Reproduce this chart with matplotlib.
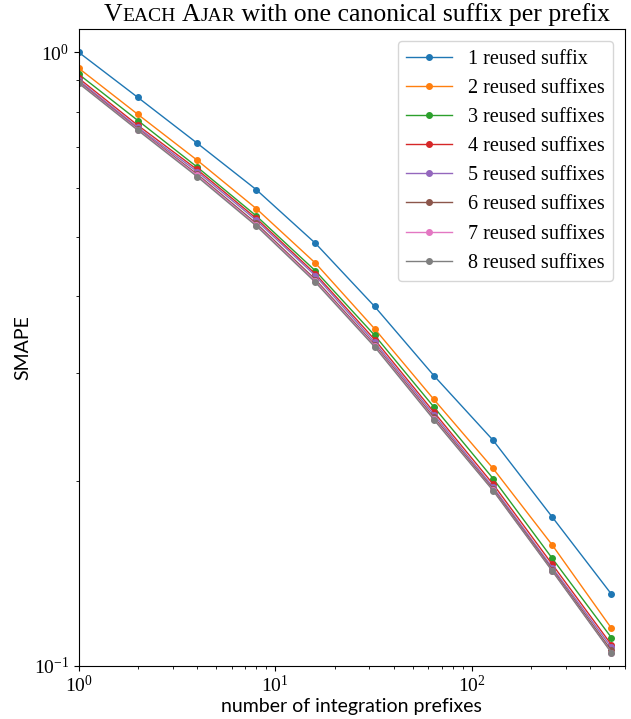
import matplotlib
matplotlib.use("Agg")
import numpy as np
from matplotlib import pyplot as plt
from matplotlib.ticker import NullFormatter

SERIF = "Liberation Serif"
SANS = "Lato"
plt.rcParams["font.family"] = [SERIF, "DejaVu Serif"]
plt.rcParams["mathtext.fontset"] = "stix"

prefixes = [1, 2, 4, 8, 16, 32, 64, 128, 256, 512]

smape_1 = [1.000, 0.844, 0.711, 0.597, 0.488, 0.385, 0.297, 0.233, 0.1746, 0.1307]
smape_2 = [0.942, 0.792, 0.667, 0.556, 0.453, 0.354, 0.2716, 0.2096, 0.1572, 0.1150]
smape_3 = [0.921, 0.774, 0.650, 0.541, 0.440, 0.3455, 0.2640, 0.2018, 0.1495, 0.1110]
smape_4 = [0.907, 0.760, 0.644, 0.536, 0.435, 0.340, 0.2590, 0.1976, 0.1462, 0.1081]
smape_5 = [0.900, 0.754, 0.639, 0.532, 0.432, 0.3365, 0.2565, 0.1954, 0.1444, 0.1070]
smape_6 = [0.895, 0.750, 0.633, 0.526, 0.426, 0.3335, 0.2540, 0.1940, 0.1434, 0.1058]
smape_7 = [0.892, 0.748, 0.630, 0.523, 0.4235, 0.3320, 0.2525, 0.1931, 0.1427, 0.1050]
smape_8 = [0.890, 0.746, 0.627, 0.521, 0.4215, 0.3308, 0.2517, 0.1929, 0.1426, 0.1049]

series = [smape_1, smape_2, smape_3, smape_4, smape_5, smape_6, smape_7, smape_8]
labels = ["1 reused suffix"] + [f"{k} reused suffixes" for k in range(2, 9)]

fig = plt.figure(figsize=(6.31, 7.19), dpi=100)
ax = fig.add_axes([0.1247, 0.0744, 0.9905 - 0.1247, 0.9592 - 0.0744])

for vals, lab in zip(series, labels):
    ax.plot(prefixes, vals, marker="o", markersize=4, linewidth=1, label=lab)

ax.set_xscale("log")
ax.set_yscale("log")
ax.set_xlim(1, 600)
ax.set_ylim(0.1, 1.09)
ax.yaxis.set_minor_formatter(NullFormatter())
ax.tick_params(labelsize=14)

ax.set_xlabel("number of integration prefixes", fontfamily=SANS, fontsize=14, labelpad=1)
ax.set_ylabel("SMAPE", fontfamily=SANS, fontsize=14)
ax.yaxis.set_label_coords(-0.086, 0.5)

ax.legend(loc="upper right", prop={"family": SERIF, "size": 14.5},
          handlelength=2.3, borderaxespad=0.6, labelspacing=0.5)

# title with small caps for "Veach Ajar"
big, small = 18.5, 14
pieces = [("V", big), ("EACH", small), (" ", big), ("A", big), ("JAR", small),
          (" with one canonical suffix per prefix", big)]
renderer = fig.canvas.get_renderer()


def text_width(s, size):
    t = fig.text(0, 0, s, fontfamily=SERIF, fontsize=size)
    w = t.get_window_extent(renderer).width
    t.remove()
    return w


widths = [text_width(s, sz) for s, sz in pieces]
total = sum(widths)
bbox = ax.get_window_extent(renderer)
x = (bbox.x0 + bbox.x1) / 2 - total / 2 + 5
y_base = bbox.y1 + 8
for (s, sz), w in zip(pieces, widths):
    fig.text(x, y_base, s, fontfamily=SERIF, fontsize=sz,
             ha="left", va="baseline", transform=None)
    x += w

fig.savefig("out.png", dpi=100)
